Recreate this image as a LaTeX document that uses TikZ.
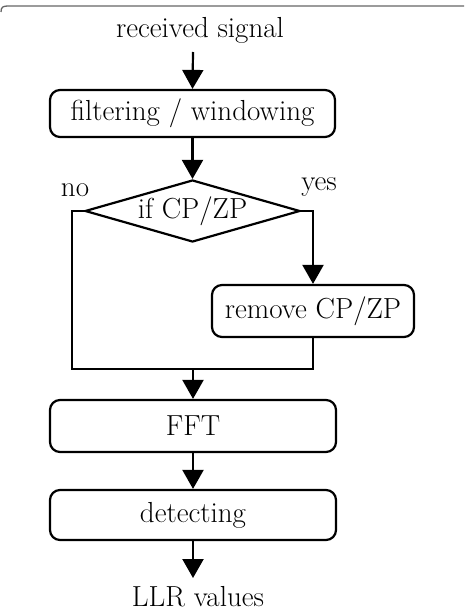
\documentclass[tikz,border=0pt]{standalone}
\usetikzlibrary{shapes.geometric,arrows.meta}
\begin{document}
\begin{tikzpicture}[x=1pt,y=-1pt,
  every node/.style={font=\fontsize{29}{34}\selectfont},
  proc/.style={draw, line width=2.2pt, rounded corners=10pt, inner sep=0pt},
  dec/.style={draw, line width=2.2pt, shape=diamond, inner sep=0pt, aspect=3.4, minimum width=215pt, minimum height=62pt},
  flow/.style={line width=2.2pt, -{Triangle[width=21pt,length=19pt]}},
  conn/.style={line width=2.2pt},
  lbl/.style={inner sep=0pt}
]
\useasboundingbox (0,0) rectangle (464,612);
\draw[gray!80!black, line width=1.3pt] (1,12) .. controls (1,7) and (3,6) .. (8,6) -- (464,6);

\node[lbl] (recv) at (200,30) {received signal};
\node[proc, minimum width=285pt, minimum height=47pt] (filt) at (192.5,113.5) {filtering / windowing};
\node[dec] (dia) at (192.5,211) {if CP/ZP};
\node[lbl] (no) at (75,190) {no};
\node[lbl] (yes) at (319,187) {yes};
\node[proc, minimum width=202pt, minimum height=52pt] (rm) at (313,311) {remove CP/ZP};
\node[proc, minimum width=286pt, minimum height=52pt] (fft) at (193,426) {FFT};
\node[proc, minimum width=286pt, minimum height=50pt] (det) at (193,515) {detecting};
\node[lbl] (llr) at (198,597) {LLR values};

\coordinate (top) at (193,52);
\coordinate (nl) at (72,369);
\coordinate (join) at (193,369);
\coordinate (bot) at (193,578);

\draw[flow] (top) -- (filt.north);
\draw[flow] (filt.south) -- (dia.north);
\draw[conn] (dia.west) -| (nl) -- (join);
\draw[flow] (dia.east) -| (rm.north);
\draw[conn] (rm.south) |- (join);
\draw[flow] (join) -- (fft.north);
\draw[flow] (fft.south) -- (det.north);
\draw[flow] (det.south) -- (bot);
\end{tikzpicture}
\end{document}
